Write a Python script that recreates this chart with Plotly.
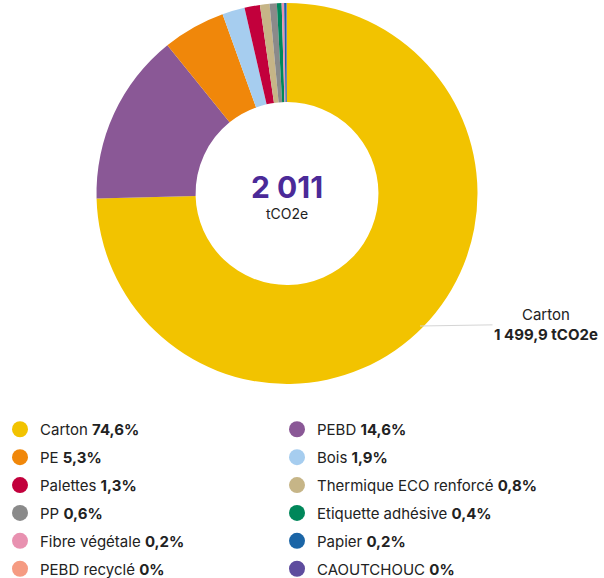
import plotly.graph_objects as go

# Emissions by packaging material (tCO2e)
materials = ["Carton", "PEBD", "PE", "Bois", "Palettes", "Thermique ECO renforcé",
             "PP", "Etiquette adhésive", "Fibre végétale", "Papier",
             "PEBD recyclé", "CAOUTCHOUC"]
emissions = [1499.9, 293.8, 106.9, 38.4, 26.3, 16.3, 12.3, 8.1, 4.1, 4.1, 0.3, 0.5]
colors = ["#F2C300", "#8A5896", "#F0870A", "#A6CDEF", "#C2003C", "#C6B587",
          "#8A8A8A", "#00875A", "#E891B0", "#1B65A6", "#F59B82", "#5E4C9E"]

FONT = "Inter"
TEXT = "#222222"


def fr_number(v, decimals):
    s = f"{v:,.{decimals}f}"
    return s.replace(",", " ").replace(".", ",")


def fr_percent(p):
    return "0%" if p < 0.05 else f"{fr_number(p, 1)}%"


total = sum(emissions)
shares = [v / total * 100 for v in emissions]

fig = go.Figure()

fig.add_trace(go.Pie(
    labels=materials,
    values=emissions,
    marker=dict(colors=colors, line=dict(width=0)),
    hole=0.48,
    sort=False,
    direction="clockwise",
    rotation=0,
    textinfo="none",
    showlegend=False,
    domain=dict(x=[96 / 604, 478 / 604], y=[1 - 384 / 578, 1 - 3 / 578]),
))

# Legend entries: circles, two columns
for i, (name, pct, col) in enumerate(zip(materials, shares, colors)):
    fig.add_trace(go.Scatter(
        x=[None], y=[None], mode="markers",
        name=f"{name} <b>{fr_percent(pct)}</b>",
        marker=dict(color=col, size=18, symbol="circle"),
        legend="legend" if i % 2 == 0 else "legend2",
        legendgroup=name,
        hoverinfo="skip",
    ))

legend_common = dict(
    orientation="v",
    yanchor="top",
    xanchor="left",
    font=dict(family=FONT, size=15, color=TEXT),
    bgcolor="rgba(0,0,0,0)",
    tracegroupgap=5.4,
    itemsizing="trace",
    traceorder="grouped",
    maxheight=400,
)

fig.update_layout(
    width=604,
    height=578,
    margin=dict(l=0, r=0, t=0, b=0, autoexpand=False),
    paper_bgcolor="white",
    plot_bgcolor="white",
    font=dict(family=FONT, color=TEXT),
    xaxis=dict(visible=False),
    yaxis=dict(visible=False),
    legend=dict(x=0.0, y=1 - 413 / 578, **legend_common),
    legend2=dict(x=277 / 604, y=1 - 413 / 578, **legend_common),
    annotations=[
        dict(
            text=f"<b>{fr_number(total, 0)}</b>",
            x=287 / 604, y=1 - 187 / 578, xref="paper", yref="paper",
            xanchor="center", yanchor="middle",
            showarrow=False, font=dict(family=FONT, size=30, color="#4B2A98"),
        ),
        dict(
            text="tCO2e",
            x=287 / 604, y=1 - 213 / 578, xref="paper", yref="paper",
            xanchor="center", yanchor="middle",
            showarrow=False, font=dict(family=FONT, size=14, color=TEXT),
        ),
        dict(
            text=f"{materials[0]}<br><b>{fr_number(emissions[0], 1)} tCO2e</b>",
            x=420 / 604, y=1 - 326 / 578, xref="paper", yref="paper",
            showarrow=True, arrowhead=0, arrowwidth=1, arrowcolor="#D5D5D5",
            ax=126, ay=-2, align="center",
            font=dict(family=FONT, size=15, color=TEXT),
        ),
    ],
)

fig.write_html("out.html")
